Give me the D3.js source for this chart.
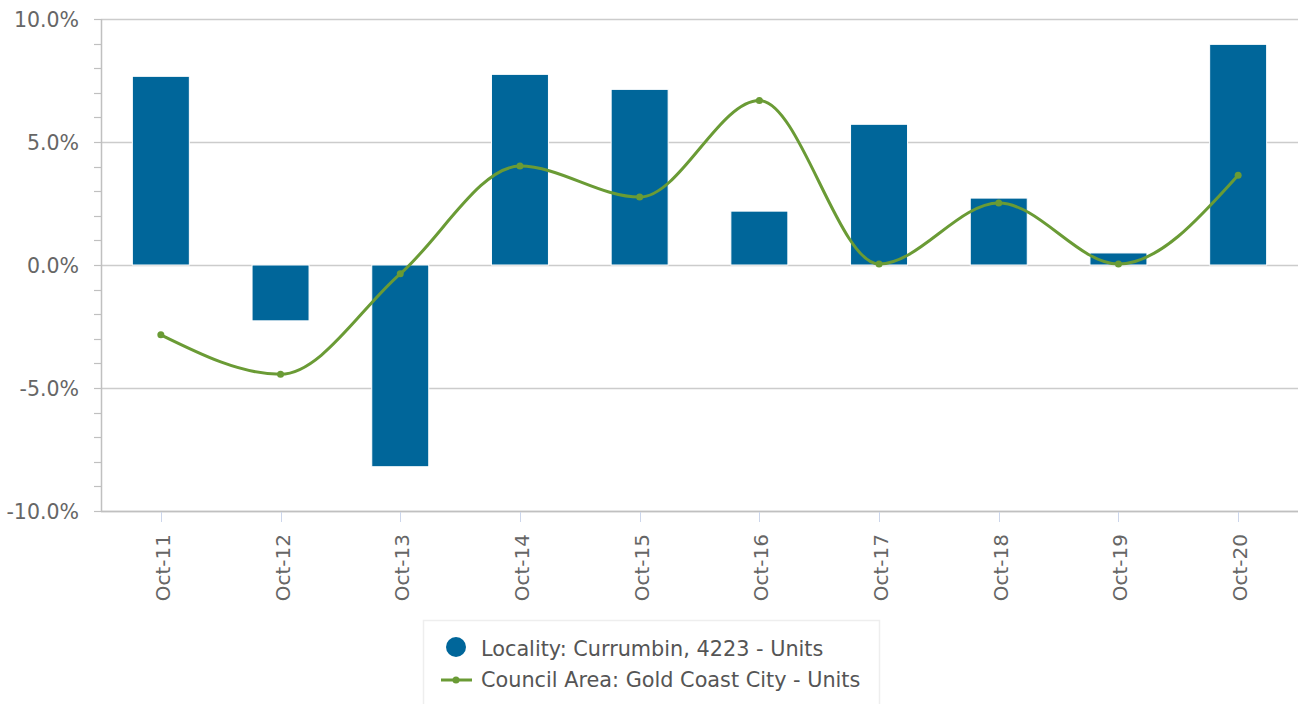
<!DOCTYPE html>
<html>
<head>
<meta charset="utf-8">
<script src="https://cdn.jsdelivr.net/npm/d3@7"></script>
<style>
  body { margin: 0; background: #fff; }
  svg { display: block; }
</style>
</head>
<body>
<svg id="chart" width="1298" height="704" font-family="'DejaVu Sans', Verdana, sans-serif"></svg>
<script>
const categories = ["Oct-11", "Oct-12", "Oct-13", "Oct-14", "Oct-15", "Oct-16", "Oct-17", "Oct-18", "Oct-19", "Oct-20"];
const localityUnits = [7.67, -2.27, -8.2, 7.75, 7.14, 2.19, 5.72, 2.72, 0.49, 8.97];
const councilUnits = [-2.84, -4.44, -0.36, 4.02, 2.76, 6.69, 0.04, 2.52, 0.04, 3.65];
const yTicks = [-10, -5, 0, 5, 10];
const legendLabels = ["Locality: Currumbin, 4223 - Units", "Council Area: Gold Coast City - Units"];

const BAR_COLOR = "#00669a";
const LINE_COLOR = "#6a9b35";
const MARGIN = { top: 19, right: 0, bottom: 192, left: 101 };
const W = 1298, H = 704;

const svg = d3.select("#chart");

const x = d3.scaleBand()
  .domain(categories)
  .range([MARGIN.left, W - MARGIN.right]);

const y = d3.scaleLinear()
  .domain([-10, 10])
  .range([H - MARGIN.bottom - 1, MARGIN.top]);

// gridlines
svg.append("g")
  .selectAll("line")
  .data(yTicks)
  .join("line")
  .attr("x1", MARGIN.left)
  .attr("x2", W - MARGIN.right)
  .attr("y1", d => Math.round(y(d)) + 0.5)
  .attr("y2", d => Math.round(y(d)) + 0.5)
  .attr("stroke", "#cccccc")
  .attr("stroke-width", 1.5);

// minor y ticks
svg.append("g")
  .selectAll("line")
  .data(d3.range(-10, 10.5, 1))
  .join("line")
  .attr("x1", MARGIN.left - 7)
  .attr("x2", MARGIN.left)
  .attr("y1", d => Math.round(y(d)) + 0.5)
  .attr("y2", d => Math.round(y(d)) + 0.5)
  .attr("stroke", "#c0c0c0")
  .attr("stroke-width", 1.2);

// y axis line
svg.append("line")
  .attr("x1", MARGIN.left + 0.5).attr("x2", MARGIN.left + 0.5)
  .attr("y1", y(10)).attr("y2", y(-10) + 1)
  .attr("stroke", "#c0c0c0")
  .attr("stroke-width", 1.5);

// x axis line
svg.append("line")
  .attr("x1", MARGIN.left).attr("x2", W - MARGIN.right)
  .attr("y1", Math.round(y(-10)) + 0.5).attr("y2", Math.round(y(-10)) + 0.5)
  .attr("stroke", "#c0c0c0")
  .attr("stroke-width", 1.5);

// y labels (plain hyphen for negatives, like the source)
svg.append("g")
  .selectAll("text")
  .data(yTicks)
  .join("text")
  .attr("x", 79)
  .attr("y", d => y(d) + 8)
  .attr("text-anchor", "end")
  .attr("fill", "#666666")
  .style("font-size", "20.5px")
  .text(d => d.toFixed(1) + "%");

// x ticks
const cx = d => x(d) + x.bandwidth() / 2;
svg.append("g")
  .selectAll("line")
  .data(categories)
  .join("line")
  .attr("x1", d => Math.round(cx(d)) + 0.5)
  .attr("x2", d => Math.round(cx(d)) + 0.5)
  .attr("y1", y(-10) + 1)
  .attr("y2", y(-10) + 11)
  .attr("stroke", "#ccd6eb")
  .attr("stroke-width", 1);

// x labels (rotated)
svg.append("g")
  .selectAll("text")
  .data(categories)
  .join("text")
  .attr("text-anchor", "end")
  .attr("fill", "#666666")
  .style("font-size", "20px")
  .attr("transform", d => `translate(${cx(d) + 9},${y(-10) + 23}) rotate(-90)`)
  .text(d => d);

// bars
const barW = 57;
svg.append("g")
  .selectAll("rect")
  .data(localityUnits)
  .join("rect")
  .attr("x", (d, i) => cx(categories[i]) - barW / 2)
  .attr("y", d => y(Math.max(0, d)))
  .attr("width", barW)
  .attr("height", d => Math.abs(y(d) - y(0)))
  .attr("fill", BAR_COLOR)
  .attr("stroke", "#ffffff")
  .attr("stroke-width", 1);

// council line
const line = d3.line()
  .x((d, i) => cx(categories[i]))
  .y(d => y(d))
  .curve(d3.curveMonotoneX);

svg.append("path")
  .datum(councilUnits)
  .attr("d", line)
  .attr("fill", "none")
  .attr("stroke", LINE_COLOR)
  .attr("stroke-width", 3);

svg.append("g")
  .selectAll("circle")
  .data(councilUnits)
  .join("circle")
  .attr("cx", (d, i) => cx(categories[i]))
  .attr("cy", d => y(d))
  .attr("r", 3.5)
  .attr("fill", LINE_COLOR);

// legend
const legend = svg.append("g");
legend.append("rect")
  .attr("x", 423.5).attr("y", 620.5)
  .attr("width", 456).attr("height", 90)
  .attr("fill", "#ffffff")
  .attr("stroke", "#eeeeee")
  .attr("stroke-width", 1.5);

legend.append("circle")
  .attr("cx", 456).attr("cy", 647).attr("r", 10)
  .attr("fill", BAR_COLOR);

legend.append("line")
  .attr("x1", 441).attr("x2", 472)
  .attr("y1", 680).attr("y2", 680)
  .attr("stroke", LINE_COLOR)
  .attr("stroke-width", 3);
legend.append("circle")
  .attr("cx", 456).attr("cy", 680).attr("r", 3.5)
  .attr("fill", LINE_COLOR);

legend.selectAll("text")
  .data(legendLabels)
  .join("text")
  .attr("x", 481)
  .attr("y", (d, i) => 655.5 + i * 31)
  .attr("fill", "#555555")
  .style("font-size", "20.8px")
  .text(d => d);
</script>
</body>
</html>
